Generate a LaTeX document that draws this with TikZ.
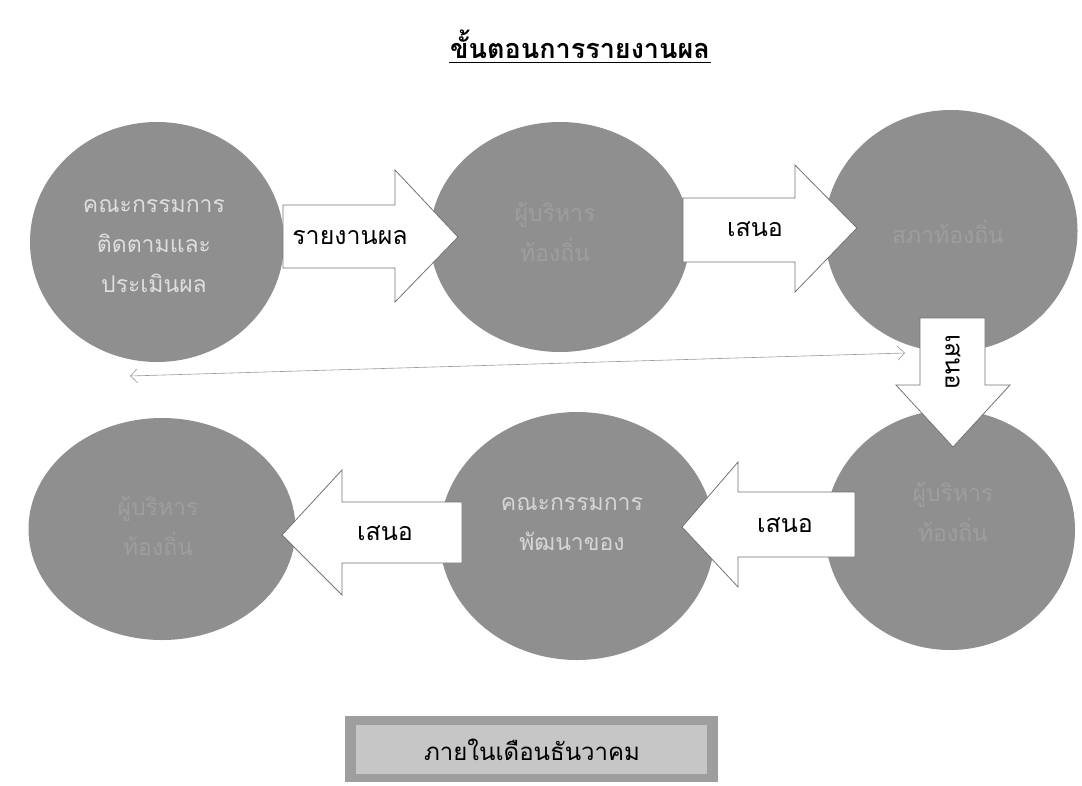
\documentclass[tikz,border=0pt]{standalone}
\usepackage{fontspec}
\newfontfamily\thaifont[Script=Thai]{Loma}
\usepackage{xcolor}
\usepackage{tikz}
\usetikzlibrary{shapes.geometric,arrows.meta}
\definecolor{stagegray}{RGB}{143,143,143}
\definecolor{ghosttxt}{RGB}{158,158,158}
\definecolor{lighttxt}{RGB}{222,222,222}
\definecolor{arredge}{RGB}{115,115,115}
\definecolor{boxouter}{RGB}{158,158,158}
\definecolor{boxinner}{RGB}{198,198,198}

\begin{document}
\begin{tikzpicture}[x=1pt, y=-1pt,
    stage/.style={ellipse, fill=stagegray, draw=none, inner sep=0pt},
    stagetxt/.style={align=center, font=\thaifont\fontsize{23}{40}\selectfont},
    blockarr/.style={fill=white, draw=arredge, line width=0.8pt},
    arrlabel/.style={font=\thaifont\fontsize{25}{28}\selectfont, text=black}]

    \useasboundingbox (0,0) rectangle (1082,785);

    %% title
    \node[font=\thaifont\bfseries\fontsize{27}{30}\selectfont, inner sep=1pt] (title) at (580,44)
      {ขั้นตอนการรายงานผล};
    \draw[line width=1.4pt] ([yshift=-3pt]title.south west) -- ([yshift=-3pt]title.south east);

    %% top row
    \node[stage, minimum width=254, minimum height=240] (eval) at (157,242) {};
    \node[stage, minimum width=260, minimum height=230] (exec) at (560,237) {};
    \node[stage, minimum width=253, minimum height=242] (council) at (951,231) {};

    %% bottom row
    \node[stage, minimum width=250, minimum height=240] (execb) at (950,530) {};
    \node[stage, minimum width=275, minimum height=248] (devcom) at (577,536) {};
    \node[stage, minimum width=267, minimum height=222] (execc) at (162,529) {};

    \node[stagetxt, text=lighttxt] (evaltxt) at (154,246) {คณะกรรมการ\\ติดตามและ\\ประเมินผล};
    \node[stagetxt, text=ghosttxt] (exectxt) at (555,232) {ผู้บริหาร\\ท้องถิ่น};
    \node[stagetxt, text=ghosttxt] (counciltxt) at (948,232) {สภาท้องถิ่น};
    \node[stagetxt, text=ghosttxt] (execbtxt) at (953,512) {ผู้บริหาร\\ท้องถิ่น};
    \node[stagetxt, text=lighttxt!90!stagegray] (devcomtxt) at (572,524) {คณะกรรมการ\\พัฒนาของ};
    \node[stagetxt, text=ghosttxt] (execctxt) at (158,526) {ผู้บริหาร\\ท้องถิ่น};

    %% long double arrow
    \coordinate (lnL) at (130,376);
    \coordinate (lnR) at (905,353);
    \draw[gray!80, line width=0.6pt,
      {Straight Barb[length=7pt,width=14pt]}-{Straight Barb[length=7pt,width=14pt]}]
      (lnL) -- (lnR);

    %% block arrows
    \draw[blockarr] (283,205) -- (395,205) -- (395,170) -- (458,237)
      -- (395,302) -- (395,268) -- (283,268) -- cycle;
    \node[arrlabel] (lab1) at (350,238) {รายงานผล};

    \draw[blockarr] (683,198) -- (795,198) -- (795,165) -- (857,228)
      -- (795,292) -- (795,262) -- (683,262) -- cycle;
    \node[arrlabel] (lab2) at (755,229) {เสนอ};

    \draw[blockarr] (920,318) -- (985,318) -- (985,385) -- (1010,385)
      -- (953,447) -- (896,385) -- (920,385) -- cycle;
    \node[arrlabel, rotate=-90] (lab3) at (953,362) {เสนอ};

    \draw[blockarr] (855,492) -- (738,492) -- (738,462) -- (682,527)
      -- (738,587) -- (738,557) -- (855,557) -- cycle;
    \node[arrlabel] (lab4) at (785,525) {เสนอ};

    \draw[blockarr] (462,502) -- (342,502) -- (342,470) -- (282,535)
      -- (342,595) -- (342,563) -- (462,563) -- cycle;
    \node[arrlabel] (lab5) at (385,533) {เสนอ};

    %% time box
    \fill[boxouter] (345,716) rectangle (718,782);
    \fill[boxinner] (356,725) rectangle (707,774);
    \node[font=\thaifont\fontsize{24}{27}\selectfont] (when) at (532,750) {ภายในเดือนธันวาคม};

\end{tikzpicture}
\end{document}
